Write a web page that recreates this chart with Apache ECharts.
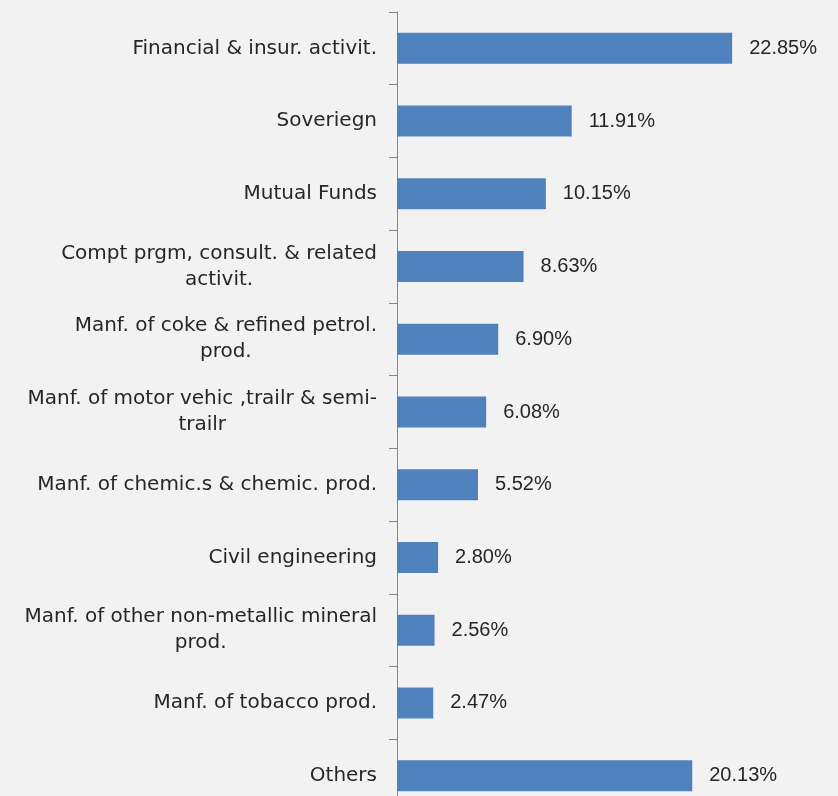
<!DOCTYPE html>
<html>
<head>
<meta charset="utf-8">
<script src="https://cdn.jsdelivr.net/npm/echarts@6/dist/echarts.min.js"></script>
<style>
  html, body { margin: 0; padding: 0; background: #f2f2f2; }
  #chart { width: 838px; height: 796px; }
</style>
</head>
<body>
<div id="chart"></div>
<script>
// Sector weights, listed top to bottom
const categories = [
  'Financial & insur. activit.',
  'Soveriegn',
  'Mutual Funds',
  'Compt prgm, consult. & related\nactivit.',
  'Manf. of coke & refined petrol.\nprod.',
  'Manf. of motor vehic ,trailr & semi-\ntrailr',
  'Manf. of chemic.s & chemic. prod.',
  'Civil engineering',
  'Manf. of other non-metallic mineral\nprod.',
  'Manf. of tobacco prod.',
  'Others'
];
const weights = [22.85, 11.91, 10.15, 8.63, 6.90, 6.08, 5.52, 2.80, 2.56, 2.47, 20.13];

const TEXT = '#262626';
const chart = echarts.init(document.getElementById('chart'));
chart.setOption({
  backgroundColor: '#f2f2f2',
  animation: false,
  // the plot runs a little past the lower edge of the canvas
  grid: {
    left: 397, top: 12, width: 440, height: 800,
    containLabel: false,
    outerBoundsMode: 'none'
  },
  xAxis: {
    type: 'value', min: 0, max: 30,
    show: false
  },
  yAxis: {
    type: 'category',
    inverse: true,
    data: categories,
    axisLine: { show: true, lineStyle: { color: '#868686', width: 1 } },
    axisTick: { show: true, length: 8, lineStyle: { color: '#868686' } },
    axisLabel: {
      margin: 20,
      align: 'right',
      // each line centred within the wrapped block
      formatter: v => v.split('\n').map(s => '{c|' + s + '}').join('\n'),
      rich: {
        c: {
          align: 'center',
          color: TEXT,
          fontFamily: 'DejaVu Sans',
          fontSize: 20,
          lineHeight: 26
        }
      }
    }
  },
  series: [{
    type: 'bar',
    data: weights,
    barWidth: 31,
    itemStyle: { color: '#4f81bd' },
    label: {
      show: true,
      position: 'right',
      distance: 17,
      color: TEXT,
      fontFamily: 'Liberation Sans',
      fontSize: 20,
      formatter: p => p.value.toFixed(2) + '%'
    }
  }]
});
</script>
</body>
</html>
